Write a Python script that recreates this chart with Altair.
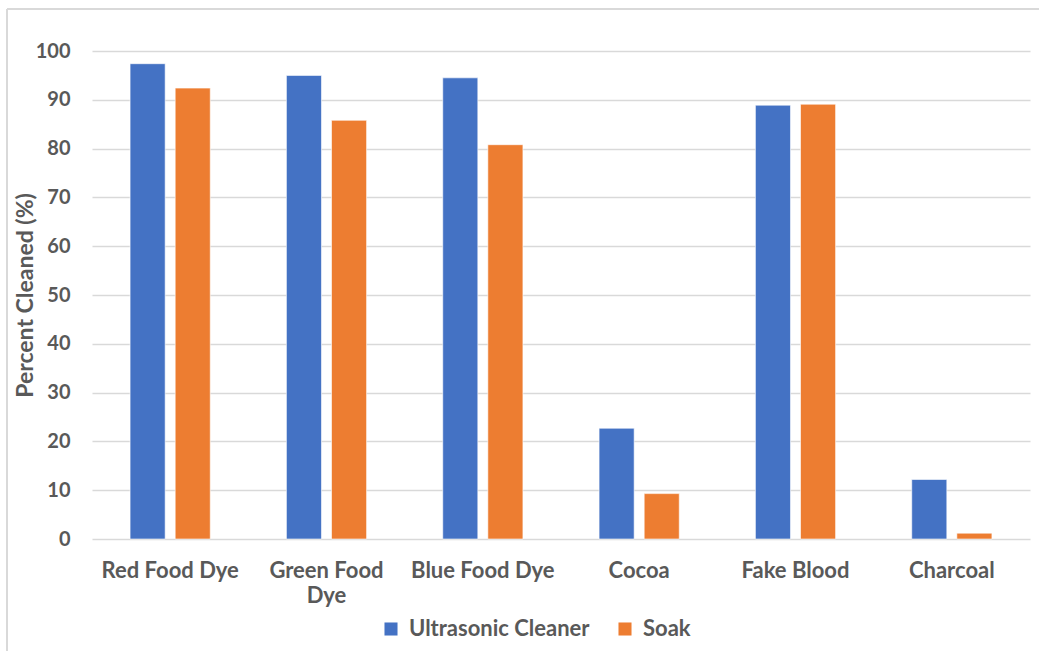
import altair as alt
import pandas as pd

categories = ["Red Food Dye", "Green Food Dye", "Blue Food Dye", "Cocoa", "Fake Blood", "Charcoal"]
series = ["Ultrasonic Cleaner", "Soak"]
ultrasonic = [97.4, 95.0, 94.5, 22.7, 88.9, 12.2]
soak = [92.4, 85.8, 80.8, 9.3, 89.1, 1.2]
colors = ["#4472C4", "#ED7D31"]

rows = []
for cat, u, s in zip(categories, ultrasonic, soak):
    rows.append({"Category": cat, "Method": series[0], "Value": u})
    rows.append({"Category": cat, "Method": series[1], "Value": s})
df = pd.DataFrame(rows)

FONT = "Lato"
GRAY = "#595959"

bars = alt.Chart(df).mark_bar(stroke="white", strokeWidth=1, strokeOpacity=0.6).encode(
    x=alt.X(
        "Category:N",
        sort=categories,
        title=None,
        scale=alt.Scale(paddingInner=0, paddingOuter=0),
        axis=alt.Axis(
            labelAngle=0,
            labelFont=FONT,
            labelFontSize=22,
            labelFontWeight="bold",
            labelColor=GRAY,
            labelPadding=21,
            labelLineHeight=25,
            labelLimit=300,
            ticks=False,
            domain=False,
            labelExpr="datum.label == 'Green Food Dye' ? ['Green Food', 'Dye'] : datum.label",
        ),
    ),
    xOffset=alt.XOffset(
        "Method:N",
        sort=series,
        scale=alt.Scale(paddingInner=0.222, paddingOuter=0.844),
    ),
    y=alt.Y(
        "Value:Q",
        title="Percent Cleaned (%)",
        scale=alt.Scale(domain=[0, 100], nice=False),
        axis=alt.Axis(
            values=list(range(0, 101, 10)),
            labelFont=FONT,
            labelFontSize=20,
            labelFontWeight="bold",
            labelColor=GRAY,
            labelPadding=22,
            ticks=False,
            domain=False,
            gridColor="#D9D9D9",
            gridWidth=1.5,
            titleFont=FONT,
            titleFontSize=23,
            titleFontWeight="bold",
            titleColor=GRAY,
            titleX=-55,
            titleY=244,
            titleAngle=-90,
            titleAlign="center",
            titleBaseline="bottom",
        ),
    ),
    color=alt.Color(
        "Method:N",
        sort=series,
        scale=alt.Scale(domain=series, range=colors),
        legend=alt.Legend(
            title=None,
            orient="none",
            legendX=288,
            legendY=567,
            direction="horizontal",
            symbolType="square",
            symbolSize=170,
            symbolStrokeWidth=0,
            labelFont=FONT,
            labelFontSize=22,
            labelFontWeight="bold",
            labelColor=GRAY,
            labelLimit=400,
            columnPadding=24,
            labelOffset=7,
        ),
    ),
)

# thin frame lines along the top and left of the chart area
frame_top = alt.Chart(df).mark_rule(color="#D9D9D9", strokeWidth=1.5).encode(
    x=alt.value(-85), x2=alt.value(947), y=alt.value(-42)
)
frame_left = alt.Chart(df).mark_rule(color="#D9D9D9", strokeWidth=1.5).encode(
    x=alt.value(-85), y=alt.value(-42), y2=alt.value(600)
)

chart = alt.layer(frame_top, frame_left, bars).properties(
    width=938,
    height=488,
    autosize=alt.AutoSizeParams(type="none"),
    padding={"left": 92, "top": 51, "right": 9, "bottom": 112},
    background="white",
).configure_view(stroke=None)

chart.save("out.html", embed_options={"renderer": "svg", "actions": False})
